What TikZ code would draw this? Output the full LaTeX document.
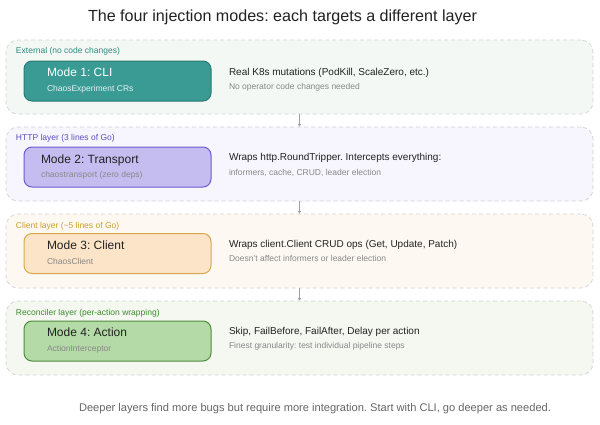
\documentclass[tikz,border=0pt]{standalone}
\usepackage{fontspec}
\setmainfont{Liberation Sans}
\usetikzlibrary{arrows.meta}
\definecolor{gOneBg}{HTML}{F3F8F4}
\definecolor{gOneLab}{HTML}{2E8B80}
\definecolor{cliFill}{HTML}{3A9B95}
\definecolor{cliDraw}{HTML}{2B7A74}
\definecolor{cliSub}{HTML}{E3F3F1}
\definecolor{gTwoBg}{HTML}{F7F5FD}
\definecolor{gTwoLab}{HTML}{5B4FC4}
\definecolor{trFill}{HTML}{C5BDF0}
\definecolor{trDraw}{HTML}{6B5BD0}
\definecolor{gThreeBg}{HTML}{FDF9F2}
\definecolor{gThreeLab}{HTML}{C9A028}
\definecolor{clFill}{HTML}{FCE4C8}
\definecolor{clDraw}{HTML}{D9A84A}
\definecolor{gFourBg}{HTML}{F4F8F1}
\definecolor{gFourLab}{HTML}{3D8A2E}
\definecolor{acFill}{HTML}{B4DAA7}
\definecolor{acDraw}{HTML}{4E8C3E}
\definecolor{mainTxt}{HTML}{222222}
\definecolor{subTxt}{HTML}{888888}
\definecolor{footTxt}{HTML}{666666}
\definecolor{dashGray}{HTML}{D2D2D2}
\newcommand\myfs[1]{\fontsize{#1}{#1}\selectfont}
\frenchspacing
\begin{document}
\frenchspacing
\begin{tikzpicture}[x=1pt,y=-1pt,
  outerbox/.style={draw=dashGray, dash pattern=on 4pt off 3pt, rounded corners=12pt,
    minimum width=587pt, minimum height=74pt, line width=0.7pt, inner sep=0pt},
  innerbox/.style={rounded corners=8pt, minimum width=187pt, minimum height=40pt,
    line width=1pt, inner sep=0pt},
  txt/.style={anchor=base west, inner sep=0pt, outer sep=0pt},
  labtxt/.style={txt, font=\myfs{8.5}},
  modetxt/.style={txt, font=\myfs{12}},
  subtxt/.style={txt, font=\myfs{8.5}},
  righttxt/.style={txt, font=\myfs{10}, text=mainTxt},
  rightsub/.style={txt, font=\myfs{8.5}, text=subTxt},
  conn/.style={draw=gray!75, line width=0.6pt, -{Stealth[length=3pt,width=3.5pt]}}
]
\useasboundingbox[fill=white] (0,0) rectangle (600,424);

\node[txt, font=\myfs{16.1}, text=mainTxt] (title) at (88,21.8) {The four injection modes: each targets a different layer};

% Layer 1
\node[outerbox, fill=gOneBg] (L1) at (299.5,77) {};
\node[labtxt, text=gOneLab] (lab1) at (16,53) {External (no code changes)};
\node[innerbox, fill=cliFill, draw=cliDraw] (M1) at (117.5,81) {};
\node[modetxt, text=white] (m1t) at (47,76.3) {Mode 1: CLI};
\node[subtxt, text=cliSub] (m1s) at (47,91) {ChaosExperiment CRs};
\node[righttxt] (r1) at (229,75.5) {Real K8s mutations (PodKill, ScaleZero, etc.)};
\node[rightsub] (r1s) at (229,89) {No operator code changes needed};

% Layer 2
\node[outerbox, fill=gTwoBg] (L2) at (299.5,164) {};
\node[labtxt, text=gTwoLab] (lab2) at (16,140) {HTTP layer (3 lines of Go)};
\node[innerbox, fill=trFill, draw=trDraw] (M2) at (117.5,167) {};
\node[modetxt, text=mainTxt] (m2t) at (41,163.3) {Mode 2: Transport};
\node[subtxt, text=subTxt] (m2s) at (41,177) {chaostransport (zero deps)};
\node[righttxt] (r2) at (229,160.5) {Wraps http.RoundTripper. Intercepts everything:};
\node[rightsub] (r2s) at (229,175) {informers, cache, CRUD, leader election};

% Layer 3
\node[outerbox, fill=gThreeBg] (L3) at (299.5,251) {};
\node[labtxt, text=gThreeLab] (lab3) at (16,228) {Client layer (\textasciitilde5 lines of Go)};
\node[innerbox, fill=clFill, draw=clDraw] (M3) at (117.5,253.5) {};
\node[modetxt, text=mainTxt] (m3t) at (47,249.3) {Mode 3: Client};
\node[subtxt, text=subTxt] (m3s) at (47,264) {ChaosClient};
\node[righttxt] (r3) at (229,247.5) {Wraps client.Client CRUD ops (Get, Update, Patch)};
\node[rightsub] (r3s) at (229,261) {Doesn't affect informers or leader election};

% Layer 4
\node[outerbox, fill=gFourBg] (L4) at (299.5,338) {};
\node[labtxt, text=gFourLab] (lab4) at (16,315) {Reconciler layer (per-action wrapping)};
\node[innerbox, fill=acFill, draw=acDraw] (M4) at (117.5,341) {};
\node[modetxt, text=mainTxt] (m4t) at (47,336.3) {Mode 4: Action};
\node[subtxt, text=subTxt] (m4s) at (47,351) {ActionInterceptor};
\node[righttxt] (r4) at (229,334.5) {Skip, FailBefore, FailAfter, Delay per action};
\node[rightsub] (r4s) at (229,348) {Finest granularity: test individual pipeline steps};

% connectors
\draw[conn] (L1.south) -- (L2.north);
\draw[conn] (L2.south) -- (L3.north);
\draw[conn] (L3.south) -- (L4.north);

\node[txt, font=\myfs{11.1}, text=footTxt] (foot) at (79,411.8) {Deeper layers find more bugs but require more integration. Start with CLI, go deeper as needed.};
\end{tikzpicture}
\end{document}
